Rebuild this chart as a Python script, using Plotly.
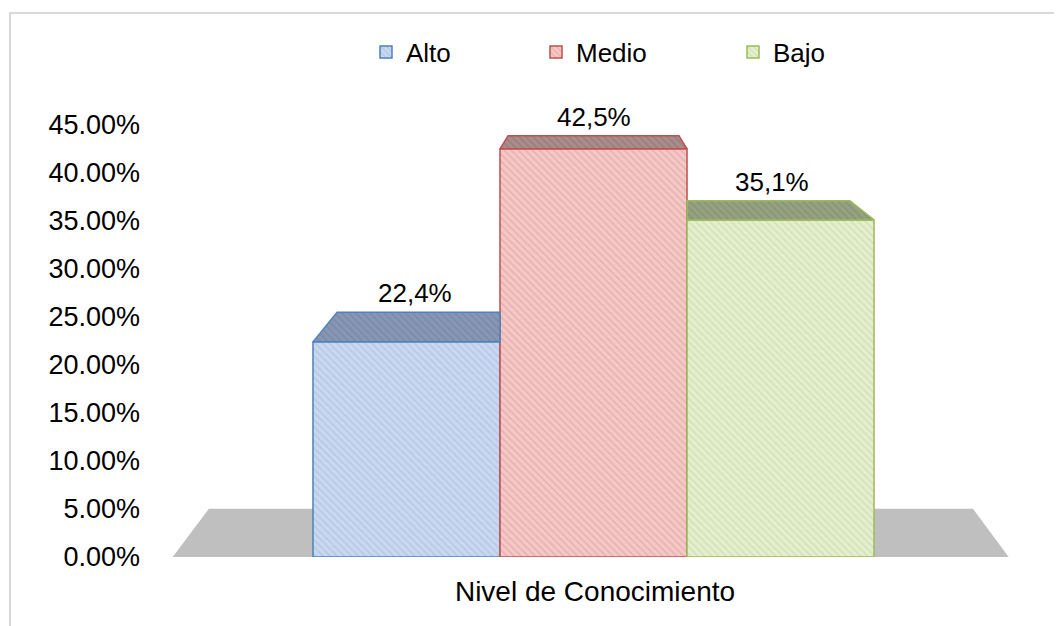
import plotly.graph_objects as go

# ---------------- data ----------------
categories = ["Alto", "Medio", "Bajo"]
values = [0.224, 0.425, 0.351]
value_labels = ["22,4%", "42,5%", "35,1%"]
axis_title = "Nivel de Conocimiento"
tick_values = [0.0, 0.05, 0.10, 0.15, 0.20, 0.25, 0.30, 0.35, 0.40, 0.45]
tick_labels = ["0.00%", "5.00%", "10.00%", "15.00%", "20.00%",
               "25.00%", "30.00%", "35.00%", "40.00%", "45.00%"]

# ---------------- styles ----------------
fill_colors = ["#c8d8ef", "#f3c8c7", "#e5eecf"]
hatch_colors = ["#9fb6dc", "#dc9896", "#c0d596"]
border_colors = ["#4f81bd", "#c0504d", "#9bbb59"]
top_fill = ["#8797b3", "#a98c8c", "#96a182"]
top_hatch = ["#6a7c9b", "#8b6b6b", "#788563"]
FONT = "Arial, 'Liberation Sans', sans-serif"
FS_TICK = 27
FS_LEG = 26
FS_LAB = 26
FS_TITLE = 28

W, H = 1062, 626
OFF = 8  # page body margin
# target plot-area edges on screen: left 160, right 1030, top 96, bottom 557
ML = 160 - OFF
MT = 96 - OFF
MR = W - (1030 - OFF)
MB = H - (557 - OFF)
PW, PH = W - ML - MR, H - MT - MB
X_RANGE = [-2.318, 2.334]
Y_RANGE = [0.0, 0.48]
BAR_W = 1.0
VPX, VPY, K = 0.0, 0.583, 0.086      # perspective vanishing point & depth
FLOOR_X = (-2.25, 2.22)


def back(x, y):
    return x + K * (VPX - x), y + K * (VPY - y)


def px_to_paper_x(px):
    return (px - OFF - ML) / PW


def py_to_paper_y(py):
    return (H - MB - (py - OFF)) / PH


fig = go.Figure()

positions = [i - (len(categories) - 1) / 2 for i in range(len(categories))]
legend_ids = ["legend", "legend2", "legend3"]

# front faces
for i, (cat, v) in enumerate(zip(categories, values)):
    fig.add_trace(go.Bar(
        x=[positions[i]], y=[v], width=BAR_W, name=cat,
        legend=legend_ids[i],
        marker=dict(color=fill_colors[i],
                    line=dict(color=border_colors[i], width=1.5),
                    pattern=dict(shape="\\", fgcolor=hatch_colors[i],
                                 bgcolor=fill_colors[i], size=5, solidity=0.3)),
        hoverinfo="skip",
    ))

# top faces
annotations = []
for i, v in enumerate(values):
    x0, x1 = positions[i] - BAR_W / 2, positions[i] + BAR_W / 2
    bx0, by = back(x0, v)
    bx1, _ = back(x1, v)
    cx = (bx0 + bx1) / 2 + K * (positions[i] - VPX) * 0.5
    bx0c, bx1c = max(bx0, x0), min(bx1, x1)
    fig.add_trace(go.Scatter(
        x=[x0, x1, bx1c, bx0c, x0], y=[v, v, by, by, v],
        mode="lines", fill="toself", fillcolor=top_fill[i],
        fillpattern=dict(shape="\\", fgcolor=top_hatch[i], bgcolor=top_fill[i],
                         size=5, solidity=0.3),
        line=dict(color=border_colors[i], width=1.5),
        showlegend=False, hoverinfo="skip",
    ))
    annotations.append(dict(x=cx, y=by, xref="x", yref="y", text=value_labels[i],
                            showarrow=False, yanchor="bottom", yshift=2,
                            font=dict(family=FONT, size=FS_LAB, color="#000000")))

# floor
fx0, fx1 = FLOOR_X
bfx0, bfy = back(fx0, 0.0)
bfx1, _ = back(fx1, 0.0)
floor_path = f"M {fx0},0 L {fx1},0 L {bfx1},{bfy} L {bfx0},{bfy} Z"

shapes = [
    dict(type="path", path=floor_path, xref="x", yref="y",
         fillcolor="#bfbfbf", line=dict(width=0), layer="below"),
    dict(type="rect", xref="paper", yref="paper",
         x0=px_to_paper_x(10), x1=px_to_paper_x(1061),
         y0=py_to_paper_y(660), y1=py_to_paper_y(13),
         line=dict(color="#d9d9d9", width=2), fillcolor="rgba(0,0,0,0)",
         layer="below"),
]

legend_px = [366, 536, 733]
legend_common = dict(orientation="h", yanchor="middle", xanchor="left",
                     y=py_to_paper_y(52), bgcolor="rgba(0,0,0,0)",
                     font=dict(family=FONT, size=FS_LEG, color="#000000"))

layout_legends = {}
for lid, lpx in zip(legend_ids, legend_px):
    layout_legends[lid] = dict(x=px_to_paper_x(lpx), **legend_common)

fig.update_layout(
    width=W, height=H,
    margin=dict(l=ML, r=MR, t=MT, b=MB, autoexpand=False),
    paper_bgcolor="white", plot_bgcolor="white",
    font=dict(family=FONT, size=FS_TICK, color="#000000"),
    barmode="overlay",
    xaxis=dict(range=X_RANGE, showticklabels=False, showgrid=False,
               zeroline=False, showline=False, ticks="",
               title=dict(text=axis_title, standoff=24,
                          font=dict(family=FONT, size=FS_TITLE, color="#000000"))),
    yaxis=dict(range=Y_RANGE, tickvals=tick_values, ticktext=tick_labels,
               showgrid=False, zeroline=False, showline=False, ticks="",
               ticklabelstandoff=19,
               tickfont=dict(family=FONT, size=FS_TICK, color="#000000")),
    shapes=shapes,
    annotations=annotations,
    **layout_legends,
)

fig.write_html("out.html")
